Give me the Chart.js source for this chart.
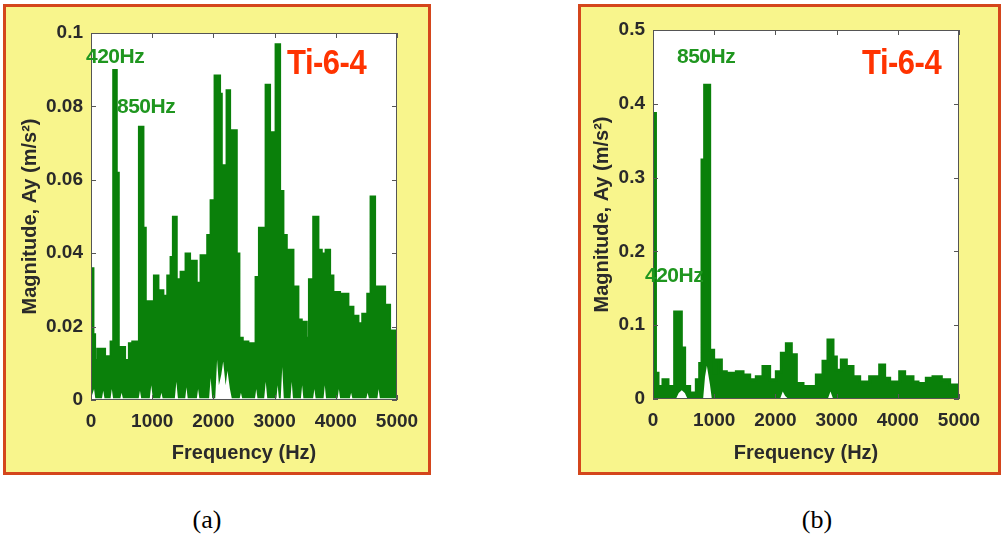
<!DOCTYPE html>
<html>
<head>
<meta charset="utf-8">
<script src="https://cdn.jsdelivr.net/npm/chart.js@4.4.1/dist/chart.umd.min.js"></script>
<style>
  html, body { margin:0; padding:0; background:#fff; }
  body { width:1001px; height:540px; position:relative; overflow:hidden; }
  .panel { position:absolute; box-sizing:border-box; background:#f8f58c; border:3px solid #d4461c; }
  canvas { position:absolute; }
  .ann { position:absolute; font-family:"Liberation Sans", Arial, sans-serif; font-weight:bold; line-height:1; white-space:nowrap; }
  .peak { color:#1f961f; font-size:21px; letter-spacing:-0.5px; }
  .mat { color:#ff3300; font-size:31px; transform:scale(1,1.12); transform-origin:0 0; letter-spacing:-0.5px; }
  .cap { position:absolute; width:100px; text-align:center; font-family:"Liberation Serif", "Times New Roman", serif; font-size:26px; line-height:1; color:#000; }
</style>
</head>
<body>
<div class="panel" style="left:3px;top:4px;width:428px;height:471px"></div>
<div class="panel" style="left:578px;top:4px;width:423px;height:471px"></div>
<canvas id="ca" width="440" height="480" style="left:0;top:0"></canvas>
<canvas id="cb" width="431" height="480" style="left:570px;top:0"></canvas>

<div class="ann peak" style="left:86px;top:45px">420Hz</div>
<div class="ann peak" style="left:117px;top:95px">850Hz</div>
<div class="ann mat" style="left:287px;top:45px">Ti-6-4</div>

<div class="ann peak" style="left:677px;top:45px">850Hz</div>
<div class="ann peak" style="left:645px;top:264px">420Hz</div>
<div class="ann mat" style="left:862px;top:45px">Ti-6-4</div>

<div class="cap" style="left:157px;top:507px">(a)</div>
<div class="cap" style="left:767px;top:507px">(b)</div>

<script>
// ---------- Data (a) ----------
const freqA = [0,44,71,98,234,316,359,425,458,561,615,670,779,861,899,1024,1106,1187,1242,1296,1334,1405,1460,1541,1623,1732,1786,1895,1950,2015,2113,2141,2211,2277,2386,2429,2484,2576,2685,2740,2849,2930,3012,3094,3148,3203,3312,3393,3448,3529,3557,3627,3720,3775,3829,3911,3965,4074,4210,4292,4374,4428,4510,4564,4646,4810,4891,5000];
const magA  = [0.036,0.018,0.011,0.014,0.012,0.016,0.090,0.062,0.0145,0.011,0.0155,0.016,0.0745,0.047,0.027,0.034,0.030,0.0285,0.034,0.039,0.050,0.033,0.035,0.040,0.038,0.032,0.0395,0.045,0.0545,0.0885,0.0835,0.064,0.0845,0.0736,0.040,0.017,0.016,0.0155,0.0336,0.047,0.086,0.073,0.097,0.057,0.045,0.041,0.031,0.022,0.0214,0.017,0.033,0.050,0.041,0.040,0.041,0.034,0.0295,0.029,0.0255,0.023,0.021,0.0236,0.029,0.0555,0.031,0.026,0.019,0.019];
// lower edge of the trace (white gaps near the baseline)
const freqLowA = [0,50,70,180,200,220,320,340,360,480,500,520,780,800,820,960,985,1010,1130,1150,1170,1370,1395,1420,1540,1560,1580,1730,1750,1770,1930,1955,1980,2030,2060,2090,2130,2160,2200,2230,2270,2300,2430,2450,2470,2680,2700,2720,2830,2855,2880,3030,3050,3070,3100,3125,3150,3260,3280,3300,3430,3450,3470,3630,3650,3670,3800,3820,3840,4030,4050,4070,4230,4250,4270,4500,4520,4540,4680,4700,4720,5000];
const magLowA  = [0.0005,0.003,0.0005,0.0005,0.0025,0.0005,0.0005,0.003,0.0005,0.0005,0.002,0.0005,0.0005,0.0025,0.0005,0.0005,0.004,0.0005,0.0005,0.002,0.0005,0.0005,0.005,0.0005,0.0005,0.0035,0.0005,0.0005,0.003,0.0005,0.0005,0.006,0.0005,0.0005,0.011,0.004,0.007,0.0105,0.004,0.008,0.003,0.0005,0.0005,0.002,0.0005,0.0005,0.003,0.0005,0.0005,0.005,0.0005,0.0005,0.004,0.0005,0.0005,0.009,0.0005,0.0005,0.005,0.0005,0.0005,0.004,0.0005,0.0005,0.003,0.0005,0.0005,0.004,0.0005,0.0005,0.003,0.0005,0.0005,0.002,0.0005,0.0005,0.002,0.0005,0.0005,0.003,0.0005,0.0005];

// ---------- Data (b) ----------
const freqB = [0,40,82,163,245,354,463,517,599,708,763,801,844,926,991,1035,1117,1198,1362,1471,1580,1688,1797,1906,2015,2097,2179,2260,2342,2451,2669,2778,2859,2941,2996,3077,3159,3268,3377,3540,3704,3785,3867,4031,4112,4248,4330,4466,4575,4711,4847,5000];
const magB  = [0.387,0.035,0.017,0.026,0.017,0.118,0.069,0.017,0.008,0.026,0.048,0.324,0.425,0.066,0.035,0.053,0.037,0.035,0.037,0.0325,0.026,0.030,0.044,0.026,0.037,0.062,0.075,0.060,0.021,0.017,0.0325,0.051,0.080,0.057,0.039,0.053,0.044,0.030,0.023,0.030,0.046,0.028,0.023,0.037,0.030,0.023,0.021,0.028,0.030,0.026,0.019,0.019];
const freqLowB = [0,380,420,470,520,560,820,850,880,930,960,2080,2120,2160,2200,2860,2900,2940,5000];
const magLowB  = [0.001,0.001,0.008,0.012,0.008,0.001,0.001,0.030,0.045,0.020,0.001,0.001,0.010,0.004,0.001,0.001,0.010,0.001,0.001];

// ---------- Ticks ----------
const xTicks = [0,1000,2000,3000,4000,5000];
const xTickLabels = ['0','1000','2000','3000','4000','5000'];
const yTicksA = [0,0.02,0.04,0.06,0.08,0.1];
const yTickLabelsA = ['0','0.02','0.04','0.06','0.08','0.1'];
const yTicksB = [0,0.1,0.2,0.3,0.4,0.5];
const yTickLabelsB = ['0','0.1','0.2','0.3','0.4','0.5'];

const GREEN = '#0a800a';
const TXT = '#2a2a2a';
const FONT = '"Liberation Sans", Arial, sans-serif';

const framePlugin = {
  id: 'frame',
  beforeDraw(chart) {
    const {ctx, chartArea: a} = chart;
    ctx.save();
    ctx.fillStyle = '#ffffff';
    ctx.fillRect(a.left, a.top, a.right - a.left, a.bottom - a.top);
    ctx.restore();
  },
  afterDatasetsDraw(chart) {
    const {ctx, chartArea: a, scales: {x, y}} = chart;
    ctx.save();
    ctx.strokeStyle = '#555';
    ctx.lineWidth = 1;
    ctx.strokeRect(a.left + 0.5, a.top + 0.5, a.right - a.left - 1, a.bottom - a.top - 1);
    ctx.beginPath();
    x.ticks.forEach(t => {
      const px = Math.round(x.getPixelForValue(t.value)) + 0.5;
      ctx.moveTo(px, a.top); ctx.lineTo(px, a.top + 5);
      ctx.moveTo(px, a.bottom); ctx.lineTo(px, a.bottom - 5);
    });
    y.ticks.forEach(t => {
      const py = Math.round(y.getPixelForValue(t.value)) + 0.5;
      ctx.moveTo(a.left, py); ctx.lineTo(a.left + 5, py);
      ctx.moveTo(a.right, py); ctx.lineTo(a.right - 5, py);
    });
    ctx.stroke();
    ctx.restore();
  }
};

function pts(xs, ys) { return xs.map((f, i) => ({x: f, y: ys[i]})); }

function makeChart(id, cfg) {
  return new Chart(document.getElementById(id), {
    type: 'line',
    data: {
      datasets: [
        { // lower edge of the trace - drawn on top as white gaps
          data: pts(cfg.lowX, cfg.lowY),
          fill: 'origin',
          backgroundColor: '#ffffff',
          borderWidth: 0,
          borderColor: 'rgba(0,0,0,0)',
          pointRadius: 0,
          tension: 0
        },
        { // upper envelope of the spectrum
          data: pts(cfg.upX, cfg.upY),
          fill: 'origin',
          backgroundColor: GREEN,
          borderColor: GREEN,
          borderWidth: cfg.lw,
          pointRadius: 0,
          stepped: 'before',
          tension: 0
        }
      ]
    },
    options: {
      responsive: false,
      animation: false,
      devicePixelRatio: 1,
      layout: { padding: { left: 0, top: cfg.padTop, right: cfg.padRight, bottom: 0 } },
      plugins: { legend: { display: false }, tooltip: { enabled: false } },
      scales: {
        x: {
          type: 'linear', min: 0, max: 5000,
          grid: { display: false, drawTicks: false },
          border: { display: false },
          afterBuildTicks: s => { s.ticks = xTicks.map(v => ({value: v})); },
          afterFit: s => { s.height = cfg.xH; },
          ticks: { padding: 10, color: TXT, font: { family: FONT, size: 19, weight: 'bold' }, maxRotation: 0,
                   callback: (v, i) => xTickLabels[i] },
          title: { display: true, text: 'Frequency (Hz)', color: TXT, font: { family: FONT, size: 20, weight: 'bold' }, padding: { top: 0, bottom: 15 } }
        },
        y: {
          type: 'linear', min: 0, max: cfg.yMax,
          grid: { display: false, drawTicks: false },
          border: { display: false },
          afterBuildTicks: s => { s.ticks = cfg.yTicks.map(v => ({value: v})); },
          afterFit: s => { s.width = cfg.yW; },
          ticks: { padding: 8, color: TXT, font: { family: FONT, size: 19, weight: 'bold' },
                   callback: (v, i) => cfg.yLabels[i] },
          title: { display: true, text: 'Magnitude, Ay (m/s²)', color: TXT, font: { family: FONT, size: 20, weight: 'bold' }, padding: { top: cfg.yTitlePad, bottom: 0 } }
        }
      }
    },
    plugins: [framePlugin]
  });
}

makeChart('ca', {
  upX: freqA, upY: magA, lowX: freqLowA, lowY: magLowA, lw: 1.5,
  yMax: 0.1, yTicks: yTicksA, yLabels: yTickLabelsA,
  padTop: 33, padRight: 43, xH: 80, yW: 91, yTitlePad: 18
});
makeChart('cb', {
  upX: freqB, upY: magB, lowX: freqLowB, lowY: magLowB, lw: 3,
  yMax: 0.5, yTicks: yTicksB, yLabels: yTickLabelsB,
  padTop: 30, padRight: 42, xH: 81, yW: 83, yTitlePad: 20
});
</script>
</body>
</html>
